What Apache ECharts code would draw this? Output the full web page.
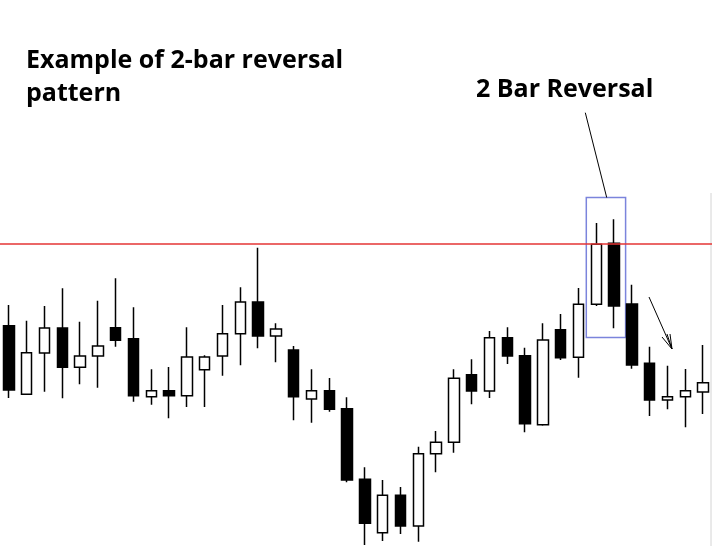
<!DOCTYPE html>
<html>
<head>
<meta charset="utf-8">
<script src="https://cdn.jsdelivr.net/npm/echarts@6/dist/echarts.min.js"></script>
<style>
html,body{margin:0;padding:0;background:#fff;}
#c{width:712px;height:546px;}
</style>
</head>
<body>
<div id="c"></div>
<script>
// ---- data (price units) ----
const categories = ['1','2','3','4','5','6','7','8','9','10','11','12','13','14','15','16','17','18','19','20',
                    '21','22','23','24','25','26','27','28','29','30','31','32','33','34','35','36','37','38','39','40'];
const opens  = [220.3,151.7,193,218,178.7,190,218.3,207.3,149.3,155.3,150.3,176.3,190,212.3,244,210,196,147,155.3,137.3,
                66.7,13.3,50.7,20,92.3,103.7,171.3,155,208.3,190.3,121.3,216.3,188.7,241.7,302.7,242,182.7,146,149.3,154];
const closes = [156,193.3,218,178.7,190,200,205.7,150.3,155.3,150.3,189,189,212.3,244,210,217,149.3,155.3,136.7,66,
                22.7,50.7,20,92.3,103.7,167.7,155,208.3,190,122.3,206,188.3,241.7,301.7,240,181,146,149.3,155.3,163.3];
const lows   = [148,151.7,154.3,147.7,161.7,158.3,199.3,144.3,141.3,127.7,139,139,170.3,180.7,197.7,183.7,125.7,123.3,134.3,63.7,
                1,5,12,4.3,73.7,93.3,141.7,148,182,113.7,120.3,186,168.3,240,217.7,177.3,130,136.7,118.7,132];
const highs  = [241,225.3,240,257.7,224.3,245.3,267.7,238.7,176.7,179,218.7,190.7,241,258.7,298.3,222.7,200,176.7,168,148.7,
                78.7,66,59,99.3,115,176.7,186.7,215,218.7,198.3,222.7,232,258,323,326.7,261.3,199.3,180.3,177,201];
const resistanceLevel = 302.5;
const titleLines = ['Example of 2-bar reversal', 'pattern'];
const patternLabel = '2 Bar Reversal';
const patternBars = [33, 34];          // indices of the two reversal bars
const patternBoxTop = 348.5;
const patternBoxBottom = 208.5;

const chart = echarts.init(document.getElementById('c'), null, {renderer: 'canvas'});
chart.setOption({
  animation: false,
  backgroundColor: '#ffffff',
  grid: {left: -5, width: 720, top: 0, height: 546, containLabel: false},
  xAxis: {type: 'category', data: categories, show: false, boundaryGap: true},
  yAxis: {type: 'value', min: 0, max: 546, show: false, splitLine: {show: false}},
  series: [{
    type: 'candlestick',
    data: categories.map((c, i) => [opens[i], closes[i], lows[i], highs[i]]),
    barWidth: 11,
    itemStyle: {
      color: '#ffffff', color0: '#000000',
      borderColor: '#000000', borderColor0: '#000000', borderColorDoji: '#000000',
      borderWidth: 1.5
    },
    markLine: {
      silent: true, symbol: 'none', animation: false,
      label: {show: false},
      lineStyle: {color: '#e53535', width: 1.5, type: 'solid'},
      data: [{yAxis: resistanceLevel}]
    }
  }]
});

// annotations positioned from data through the chart's own scales
const pL = chart.convertToPixel({gridIndex: 0}, [categories[patternBars[0]], patternBoxTop]);
const pR = chart.convertToPixel({gridIndex: 0}, [categories[patternBars[1]], patternBoxBottom]);
const boxX = pL[0] - 10, boxW = (pR[0] + 11.5) - boxX;
const boxY = pL[1], boxH = pR[1] - pL[1];

const font1 = 'bold 25px "Open Sans", "Noto Sans", sans-serif';
chart.setOption({
  graphic: [
    {type: 'text', left: 26, top: 48, silent: true,
     style: {text: titleLines[0], font: font1, fill: '#000'}},
    {type: 'text', left: 26, top: 81.5, silent: true,
     style: {text: titleLines[1], font: font1, fill: '#000'}},
    {type: 'text', left: 476, top: 77, silent: true,
     style: {text: patternLabel, font: 'bold 25px "Open Sans", "Noto Sans", sans-serif', fill: '#000'}},
    {type: 'rect', silent: true,
     shape: {x: boxX, y: boxY, width: boxW, height: boxH},
     style: {fill: 'none', stroke: '#7b84dc', lineWidth: 1.5}},
    {type: 'line', silent: true,
     shape: {x1: 585.3, y1: 112.7, x2: 606.7, y2: boxY},
     style: {stroke: '#000', lineWidth: 1}},
    {type: 'line', silent: true, shape: {x1: 649, y1: 297, x2: 672, y2: 349}, style: {stroke: '#000', lineWidth: 1}},
    {type: 'line', silent: true, shape: {x1: 672, y1: 349, x2: 662, y2: 337}, style: {stroke: '#000', lineWidth: 1}},
    {type: 'line', silent: true, shape: {x1: 672, y1: 349, x2: 667, y2: 334}, style: {stroke: '#000', lineWidth: 1}},
    {type: 'line', silent: true, shape: {x1: 672, y1: 349, x2: 670, y2: 334}, style: {stroke: '#000', lineWidth: 1}},
    {type: 'line', silent: true, shape: {x1: 711, y1: 193, x2: 711, y2: 546}, style: {stroke: '#d4d4d4', lineWidth: 1}}
  ]
});
</script>
</body>
</html>
